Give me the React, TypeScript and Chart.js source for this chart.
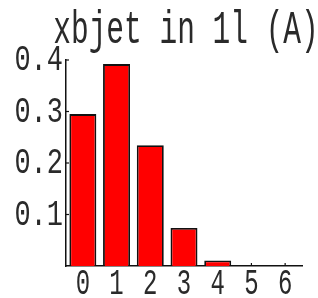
import React, { useEffect, useRef } from "react";
import { Chart, registerables } from "chart.js";

Chart.register(...registerables);

const categories = ["0", "1", "2", "3", "4", "5", "6"];
const values = [0.295, 0.392, 0.2345, 0.074, 0.0107, 0, 0];
const yTicks = [0.1, 0.2, 0.3, 0.4];
const titleText = "xbjet in 1l (A)";

const FONT = "'Liberation Mono', monospace";

function drawStretched(ctx: CanvasRenderingContext2D, text: string, x: number, y: number, size: number, sy: number, align: CanvasTextAlign) {
  ctx.save();
  ctx.translate(x, y);
  ctx.scale(1, sy);
  ctx.font = `${size}px ${FONT}`;
  ctx.textAlign = align;
  ctx.textBaseline = "middle";
  ctx.fillStyle = "#2a2a2a";
  ctx.fillText(text, 0, 0);
  ctx.restore();
}

const decor = {
  id: "decor",
  beforeDatasetsDraw(chart: any) {
    const ctx = chart.ctx as CanvasRenderingContext2D;
    const xs = chart.scales.x;
    const ys = chart.scales.y;
    const area = chart.chartArea;
    ctx.save();
    ctx.strokeStyle = "#111";
    ctx.lineWidth = 1.2;
    yTicks.forEach((v) => {
      const py = ys.getPixelForValue(v);
      ctx.beginPath();
      ctx.moveTo(area.left, py);
      ctx.lineTo(area.left + 3, py);
      ctx.stroke();
    });
    categories.forEach((_, i) => {
      const px = xs.getPixelForValue(i);
      ctx.beginPath();
      ctx.moveTo(px, area.bottom);
      ctx.lineTo(px, area.bottom - 3);
      ctx.stroke();
    });
    ctx.restore();
  },
  afterDraw(chart: any) {
    const ctx = chart.ctx as CanvasRenderingContext2D;
    const xs = chart.scales.x;
    const ys = chart.scales.y;
    const area = chart.chartArea;
    yTicks.forEach((v) => {
      const py = ys.getPixelForValue(v);
      drawStretched(ctx, v.toFixed(1), area.left - 3, py, 27, 1.4, "right");
    });
    categories.forEach((c, i) => {
      const px = xs.getPixelForValue(i);
      drawStretched(ctx, c, px, area.bottom + 18, 24, 1.55, "center");
    });
    drawStretched(ctx, titleText, 186, 31, 29.5, 1.55, "center");
  },
};

export default function App() {
  const ref = useRef<HTMLCanvasElement>(null);
  useEffect(() => {
    document.body.style.margin = "0";
    const chart = new Chart(ref.current!, {
      type: "bar",
      data: {
        labels: categories,
        datasets: [
          {
            data: values,
            backgroundColor: "#ff0000",
            borderColor: "#111",
            borderWidth: 1.8,
            barPercentage: 0.8,
            categoryPercentage: 1,
          },
        ],
      },
      options: {
        responsive: false,
        animation: false,
        layout: { padding: { top: 60, right: 16, left: 0, bottom: 0 } },
        plugins: { legend: { display: false }, title: { display: false }, tooltip: { enabled: false } },
        scales: {
          x: {
            grid: { display: false },
            border: { display: true, color: "#111", width: 1.5 },
            ticks: { display: false },
            afterFit: (s: any) => { s.height = 32; },
          },
          y: {
            min: 0,
            max: 0.4,
            grid: { display: false },
            border: { display: true, color: "#111", width: 1.5 },
            ticks: { display: false, stepSize: 0.1 },
            afterFit: (s: any) => { s.width = 66; },
          },
        },
      },
      plugins: [decor],
    });
    return () => chart.destroy();
  }, []);
  return (
    <div style={{ width: 318, height: 298 }}>
      <canvas ref={ref} width={318} height={298} />
    </div>
  );
}
